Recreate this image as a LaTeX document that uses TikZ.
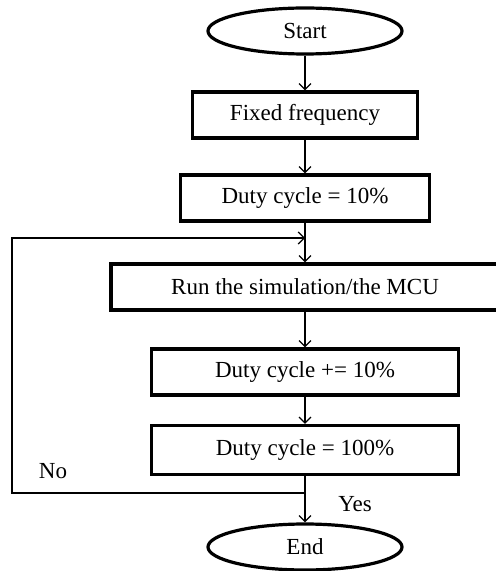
\documentclass[tikz,border=0pt]{standalone}
\usepackage{fontspec}
\setmainfont{Liberation Serif}
\usepackage{tikz}
\usetikzlibrary{shapes.geometric,arrows.meta}

\begin{document}
\begin{tikzpicture}
      [%%%%%%%%%%%%%%%%%%%%%%%%%%%%%%
      x=1pt, y=1pt,
      box/.style={rectangle,draw=black,line width=1.6pt, minimum height=23pt, font=\fontsize{11.5}{13}\selectfont},
      term/.style={ellipse,draw=black,line width=1.6pt, minimum width=97pt, minimum height=23pt, font=\fontsize{11.5}{13}\selectfont},
      lbl/.style={font=\fontsize{11.5}{13}\selectfont},
      flow/.style={line width=0.6pt,-{Straight Barb[length=3pt,width=6pt]}},
      ]%%%%%%%%%%%%%%%%%%%%%%%%%%%%%%
      \useasboundingbox (0,0) rectangle (248,-285.5);

      \node[term] (start) at (152.5,-15.5){Start};
      \node[box,minimum width=112.5pt] (fixed) at (152.5,-57.5){Fixed frequency};
      \node[box,minimum width=124.5pt] (duty) at (152.5,-99){Duty cycle = 10\%};
      \node[box,minimum width=194pt] (run) at (152.5,-143.5){Run the simulation/the MCU};
      \node[box,minimum width=153.5pt] (incr) at (152.5,-186){Duty cycle += 10\%};
      \node[box,minimum width=153.5pt,minimum height=24.5pt] (full) at (152.5,-225){Duty cycle = 100\%};
      \node[term] (stop) at (152.5,-273.5){End};

      % loop back
      \coordinate (join) at (152.5,-119);
      \coordinate (split) at (152.5,-246.5);
      \coordinate (corner) at (6,-246.5);

      \draw[flow] (start) -- (fixed);
      \draw[flow] (fixed) -- (duty);
      \draw[flow] (duty) -- (run);
      \draw[flow] (run) -- (incr);
      \draw[flow] (incr) -- (full);
      \draw[flow] (full) -- (stop);
      \draw[flow] (split) -- (corner) |- (join);

      \node[lbl] (no) at (26.5,-235.5){No};
      \node[lbl] (yes) at (177.5,-252){Yes};
    \end{tikzpicture}
\end{document}
